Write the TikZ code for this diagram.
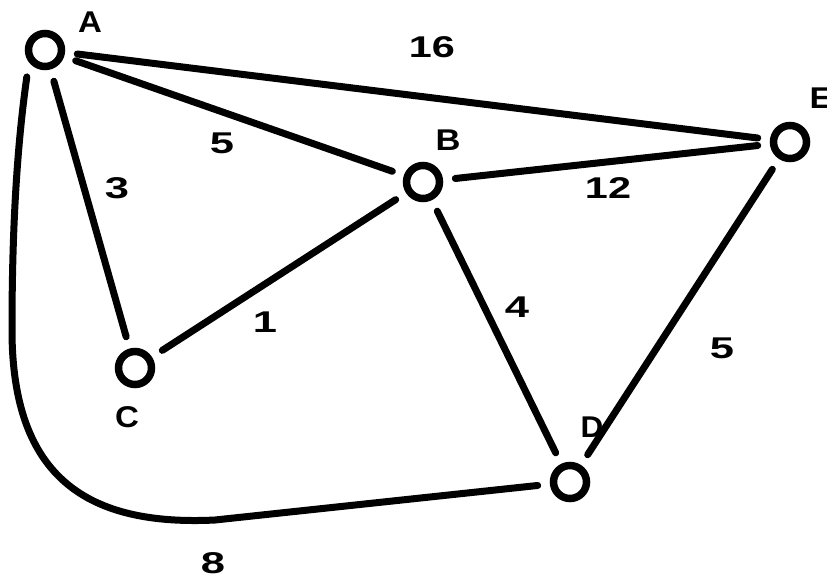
\documentclass[tikz,border=0pt]{standalone}
\usepackage{fontspec}
\setmainfont{Liberation Sans}
\usepackage{graphicx}
\begin{document}
\begin{tikzpicture}[x=1pt,y=-1pt,
  vert/.style={circle,draw,line width=7.5pt,minimum size=33pt,inner sep=0pt,outer sep=16pt},
  edge/.style={line width=7pt,line cap=round},
  vlab/.style={font=\bfseries\fontsize{30}{30}\selectfont,inner sep=0pt},
  wlab/.style={font=\bfseries\fontsize{30}{30}\selectfont,inner sep=0pt}]
\useasboundingbox (0,0) rectangle (827,581);
\fill[white] (0,0) rectangle (827,581);
\node[vert] (A) at (45,50) {};
\node[vert] (B) at (423,182) {};
\node[vert] (C) at (135,368) {};
\node[vert] (D) at (570,482) {};
\node[vert] (E) at (790,142) {};
\node[vlab] (lA) at (90,22) {\scalebox{1.1}[1]{A}};
\node[vlab] (lB) at (448,140) {\scalebox{1.15}[1]{B}};
\node[vlab] (lC) at (127,417) {\scalebox{1.1}[1]{C}};
\node[vlab] (lD) at (592,427) {\scalebox{1.05}[1]{D}};
\node[vlab] (lE) at (821,98) {\scalebox{1.15}[1]{E}};
\draw[edge] (A) -- (E);
\draw[edge] (A) -- (B);
\draw[edge] (A) -- (C);
\draw[edge] (C) -- (B);
\draw[edge] (B) -- (E);
\draw[edge] (B) -- (D);
\draw[edge] (D) -- (E);
\coordinate (k1) at (12,330);
\coordinate (k2) at (215,520);
\draw[edge] (A.236) .. controls (15,160) and (12,250) .. (k1)
  .. controls (12,480) and (90,526) .. (k2) -- (D);
\node[wlab] (w16) at (432,47) {\scalebox{1.38}[1]{16}};
\node[wlab] (w5a) at (222,143) {\scalebox{1.45}[1]{5}};
\node[wlab] (w3) at (117,188) {\scalebox{1.45}[1]{3}};
\node[wlab] (w12) at (608,188) {\scalebox{1.38}[1]{12}};
\node[wlab] (w1) at (265,322) {\scalebox{1.45}[1]{1}};
\node[wlab] (w4) at (517,307) {\scalebox{1.45}[1]{4}};
\node[wlab] (w5b) at (722,348) {\scalebox{1.45}[1]{5}};
\node[wlab] (w8) at (213,563) {\scalebox{1.45}[1]{8}};
\end{tikzpicture}
\end{document}
